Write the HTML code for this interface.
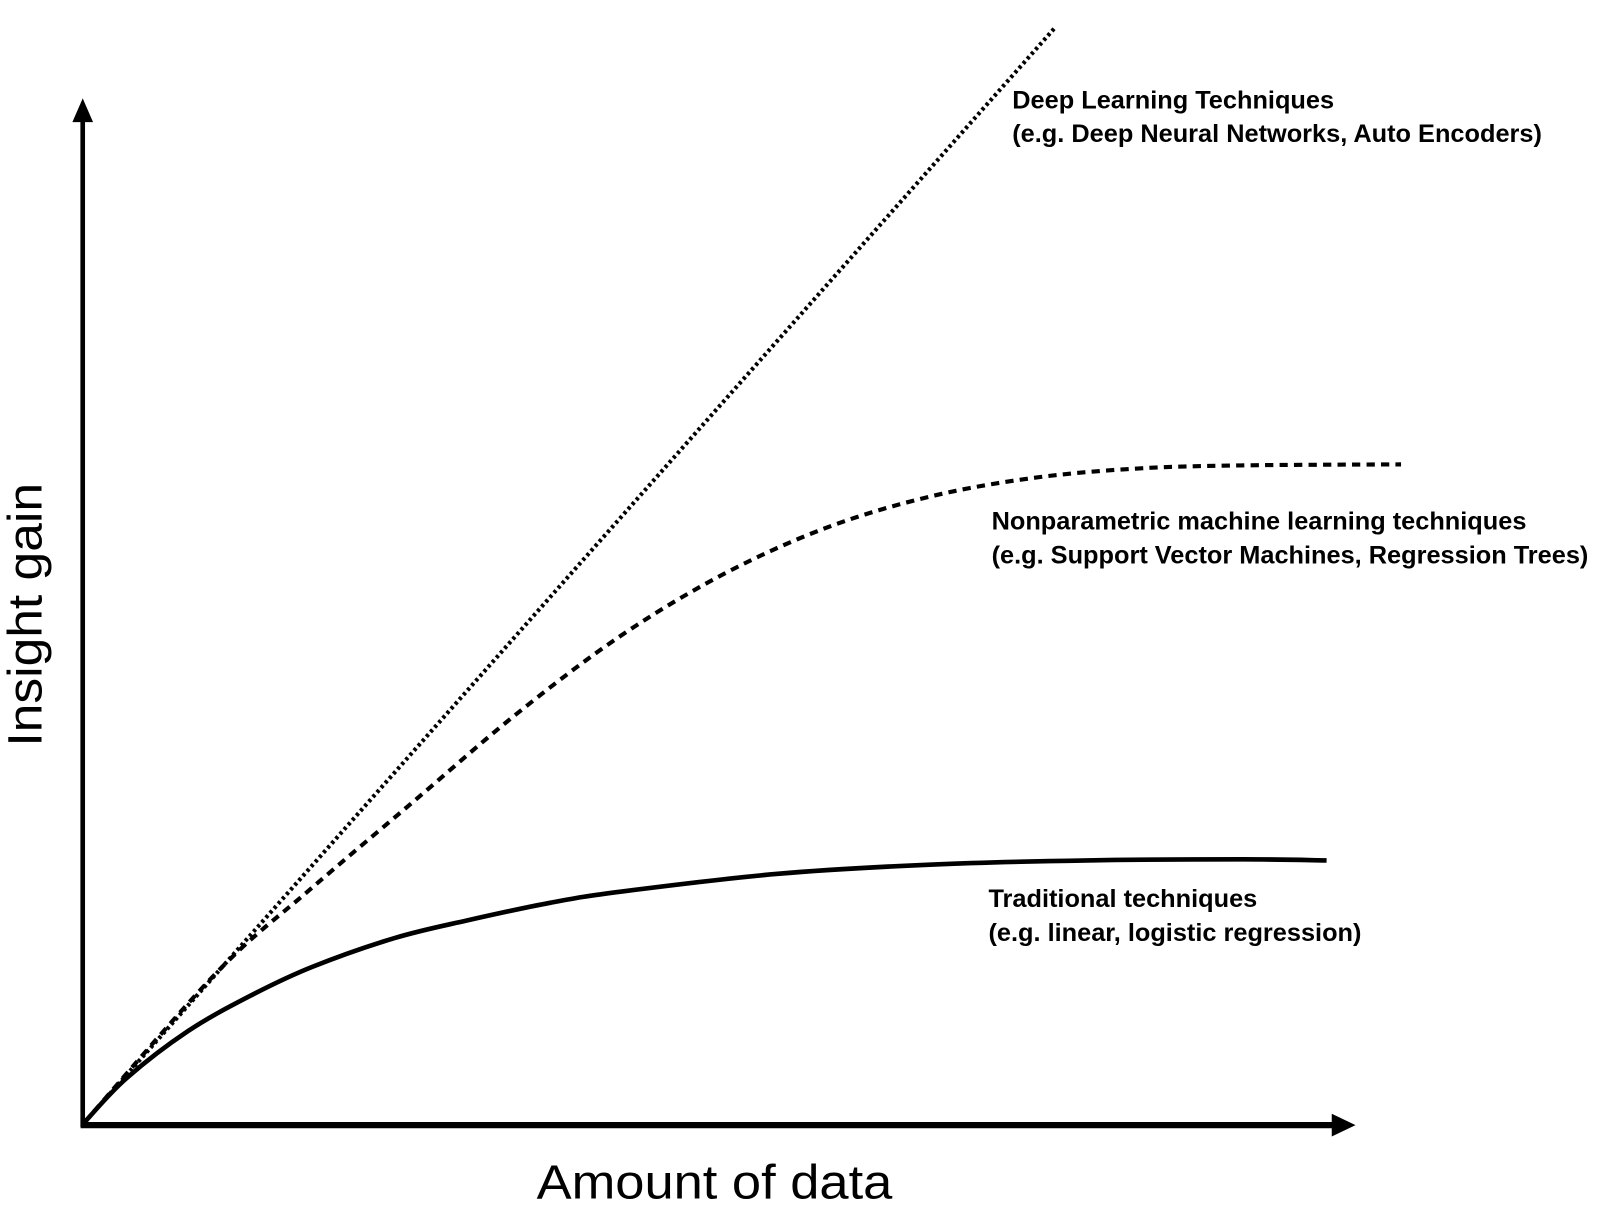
<!DOCTYPE html>
<html><head><meta charset="utf-8"><style>
html,body{margin:0;padding:0;background:#fff;}
svg{display:block;}
text{font-family:"Liberation Sans",Arial,sans-serif;fill:#000;}
.lbl{font-weight:bold;font-size:24.5px;}
.ax{font-size:47px;}
</style></head><body>
<svg id="chart" width="1613" height="1210" viewBox="0 0 1560 1170" xmlns="http://www.w3.org/2000/svg">
<g id="axes">
<line x1="80" y1="1090" x2="80" y2="112" stroke="#000" stroke-width="4.5"/>
<polygon points="80,95 70,118 90,118" fill="#000"/>
<line x1="78" y1="1088" x2="1292" y2="1088" stroke="#000" stroke-width="6"/>
<polygon points="1311,1088 1288,1077 1288,1099" fill="#000"/>
</g>
<g id="series"></g>
<text class="ax" x="519" y="1159" textLength="344" lengthAdjust="spacingAndGlyphs">Amount of data</text>
<text class="ax" transform="translate(40,722) rotate(-90)" textLength="255" lengthAdjust="spacingAndGlyphs">Insight gain</text>
<text class="lbl" x="979" y="105">Deep Learning Techniques</text>
<text class="lbl" x="979" y="137">(e.g. Deep Neural Networks, Auto Encoders)</text>
<text class="lbl" x="959" y="512">Nonparametric machine learning techniques</text>
<text class="lbl" x="959" y="545">(e.g. Support Vector Machines, Regression Trees)</text>
<text class="lbl" x="956" y="877">Traditional techniques</text>
<text class="lbl" x="956" y="910">(e.g. linear, logistic regression)</text>
</svg>
<script>
const deepX = [0, 93.8];
const deepY = [0, 105.8];
const nonparX = [0, 12.8, 21.8, 31.8, 41.8, 51.8, 61.8, 71.8, 81.8, 91.8, 101.8, 111.8, 127.3];
const nonparY = [0, 14.5, 22.5, 31, 39.5, 47, 53, 57.5, 60.5, 62.3, 63.2, 63.5, 63.6];
const tradX = [0, 4, 10, 16, 22, 30, 37, 45, 52, 67, 82, 97, 112, 120.1];
const tradY = [0, 4.2, 8.8, 12.2, 15, 17.8, 19.5, 21.2, 22.3, 24, 24.9, 25.3, 25.4, 25.3];

function sx(v){ return 82 + v*10; }
function sy(v){ return 1085 - v*10; }
function pathFor(xs, ys){
  const p = xs.map((x,i)=>[sx(x), sy(ys[i])]);
  if(p.length===2) return `M${p[0][0]},${p[0][1]}L${p[1][0]},${p[1][1]}`;
  let d = `M${p[0][0]},${p[0][1]}`;
  for(let i=0;i<p.length-1;i++){
    const p0=p[Math.max(0,i-1)], p1=p[i], p2=p[i+1], p3=p[Math.min(p.length-1,i+2)];
    const c1=[p1[0]+(p2[0]-p0[0])/6, p1[1]+(p2[1]-p0[1])/6];
    const c2=[p2[0]-(p3[0]-p1[0])/6, p2[1]-(p3[1]-p1[1])/6];
    d += `C${c1[0]},${c1[1]} ${c2[0]},${c2[1]} ${p2[0]},${p2[1]}`;
  }
  return d;
}
const g = document.getElementById('series');
function addLine(xs, ys, name, dash, w){
  const el = document.createElementNS('http://www.w3.org/2000/svg','path');
  el.setAttribute('d', pathFor(xs, ys));
  el.setAttribute('fill','none');
  el.setAttribute('stroke','#000');
  el.setAttribute('stroke-width', w);
  if(dash) el.setAttribute('stroke-dasharray', dash);
  
  
  g.appendChild(el);
}
addLine(deepX, deepY, 'deep-learning-line', '3 3', 4);
addLine(nonparX, nonparY, 'nonparametric-line', '8 6', 4);
addLine(tradX, tradY, 'traditional-line', null, 4.5);
</script>
</body></html>
